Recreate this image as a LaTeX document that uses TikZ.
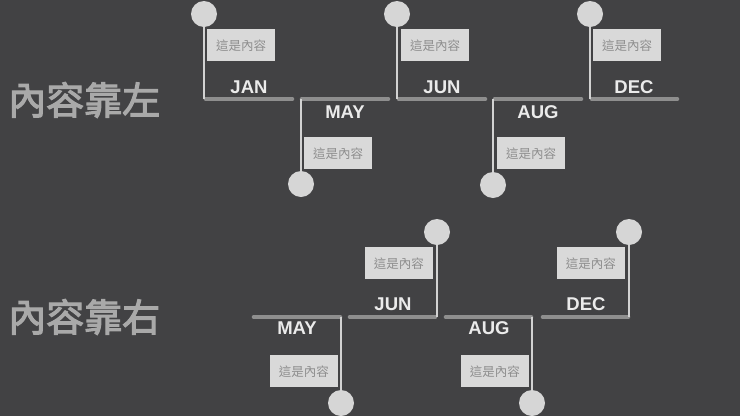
\documentclass[tikz,border=0pt]{standalone}
\usepackage{xcolor}
\usepackage{fontspec}
\setsansfont{Liberation Sans}
\newfontfamily\cjk{Noto Sans CJK TC}
\newfontfamily\cjkmid[FakeBold=3]{Noto Sans CJK TC}
\usepackage{tikz}
\usetikzlibrary{positioning}
\definecolor{bgGray}{HTML}{424244}
\definecolor{barGray}{HTML}{8E8E8E}
\definecolor{stemGray}{HTML}{D2D2D2}
\definecolor{pinGray}{HTML}{D6D6D6}
\definecolor{cardGray}{HTML}{D9D9D9}
\definecolor{cardText}{HTML}{8E8E8E}
\definecolor{monthWhite}{HTML}{EBEBEB}
\definecolor{titleGray}{HTML}{A9A9A9}

\begin{document}
\begin{tikzpicture}
  [
    x=1pt, y=-1pt,
    Pin/.style={circle, fill=pinGray, minimum size=26pt, inner sep=0pt},
    Card/.style={rectangle, fill=cardGray, minimum width=68pt, minimum height=32pt, inner sep=0pt,
      text=cardText, font=\cjk\fontsize{12.5}{14}\selectfont},
    Month/.style={inner sep=0pt, text=monthWhite, font=\sffamily\bfseries\fontsize{18.5}{20}\selectfont},
    Title/.style={anchor=west, inner sep=0pt, text=titleGray, font=\cjkmid\fontsize{38}{40}\selectfont},
    Bar/.style={draw=barGray, line width=4.6pt, line cap=round},
    Stem/.style={draw=stemGray, line width=2.2pt}
  ]
  % Background
  \fill[bgGray] (0,0) rectangle (740,416);
  \useasboundingbox (0,0) rectangle (740,416);
  % Titles
  \node[Title] (left) at (8,100) {內容靠左};
  \node[Title] (right) at (8,317) {內容靠右};
  % Top row: bar ends
  \coordinate (janA) at (206,99);  \coordinate (janB) at (292,99);
  \coordinate (mayA) at (302,99);  \coordinate (mayB) at (388,99);
  \coordinate (junA) at (399,99);  \coordinate (junB) at (485,99);
  \coordinate (augA) at (495,99);  \coordinate (augB) at (581,99);
  \coordinate (decA) at (592,99);  \coordinate (decB) at (677,99);
  % Top row: nodes
  \node[Pin] (pJan) at (204,14) {};
  \node[Pin] (pMay) at (301,184) {};
  \node[Pin] (pJun) at (397,14) {};
  \node[Pin] (pAug) at (493,185) {};
  \node[Pin] (pDec) at (590,14) {};
  \node[Card, anchor=north west] (cJan) at (207,29) {這是內容};
  \node[Card, anchor=north west] (cMay) at (304,137) {這是內容};
  \node[Card, anchor=north west] (cJun) at (401,29) {這是內容};
  \node[Card, anchor=north west] (cAug) at (497,137) {這是內容};
  \node[Card, anchor=north west] (cDec) at (593,29) {這是內容};
  \node[Month] (lJan) at (249,87) {JAN};
  \node[Month] (lMay) at (345,112) {MAY};
  \node[Month] (lJun) at (442,87) {JUN};
  \node[Month] (lAug) at (538,112) {AUG};
  \node[Month] (lDec) at (634,87) {DEC};
  % Top row: lines
  \path [Bar] (janA) -- (janB);
  \path [Bar] (mayA) -- (mayB);
  \path [Bar] (junA) -- (junB);
  \path [Bar] (augA) -- (augB);
  \path [Bar] (decA) -- (decB);
  \path [Stem] (pJan.south) -- (pJan.south |- janA);
  \path [Stem] (pMay.north |- mayA) -- (pMay.north);
  \path [Stem] (pJun.south) -- (pJun.south |- junA);
  \path [Stem] (pAug.north |- augA) -- (pAug.north);
  \path [Stem] (pDec.south) -- (pDec.south |- decA);
  % Bottom row: bar ends
  \coordinate (may2A) at (254,317);  \coordinate (may2B) at (340,317);
  \coordinate (jun2A) at (350,317);  \coordinate (jun2B) at (435,317);
  \coordinate (aug2A) at (446,317);  \coordinate (aug2B) at (531,317);
  \coordinate (dec2A) at (543,317);  \coordinate (dec2B) at (628,317);
  % Bottom row: nodes
  \node[Pin] (pMay2) at (341,403) {};
  \node[Pin] (pJun2) at (437,232) {};
  \node[Pin] (pAug2) at (532,403) {};
  \node[Pin] (pDec2) at (629,232) {};
  \node[Card, anchor=north east] (cMay2) at (338,355) {這是內容};
  \node[Card, anchor=north east] (cJun2) at (433,247) {這是內容};
  \node[Card, anchor=north east] (cAug2) at (529,355) {這是內容};
  \node[Card, anchor=north east] (cDec2) at (625,247) {這是內容};
  \node[Month] (lMay2) at (297,328) {MAY};
  \node[Month] (lJun2) at (393,304) {JUN};
  \node[Month] (lAug2) at (489,328) {AUG};
  \node[Month] (lDec2) at (586,304) {DEC};
  % Bottom row: lines
  \path [Bar] (may2A) -- (may2B);
  \path [Bar] (jun2A) -- (jun2B);
  \path [Bar] (aug2A) -- (aug2B);
  \path [Bar] (dec2A) -- (dec2B);
  \path [Stem] (pMay2.north |- may2B) -- (pMay2.north);
  \path [Stem] (pJun2.south) -- (pJun2.south |- jun2B);
  \path [Stem] (pAug2.north |- aug2B) -- (pAug2.north);
  \path [Stem] (pDec2.south) -- (pDec2.south |- dec2B);
\end{tikzpicture}
\end{document}
